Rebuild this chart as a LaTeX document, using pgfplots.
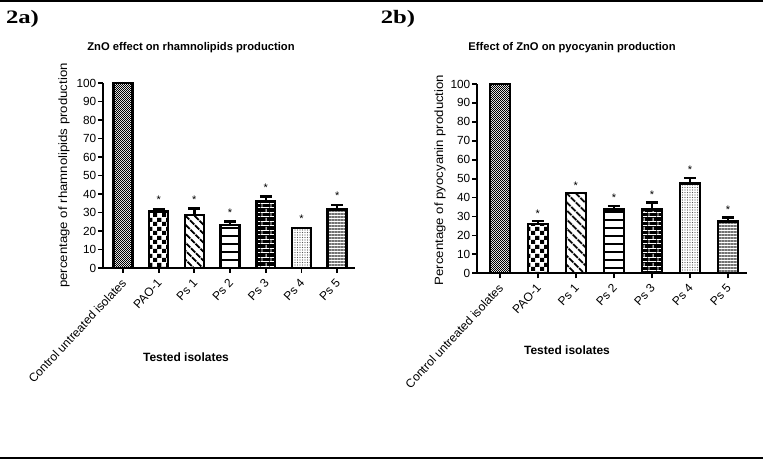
\documentclass[border=0pt]{standalone}
\usepackage{fontspec}
\setmainfont{Liberation Sans}
\newfontfamily\serifb{Liberation Serif}
\usepackage{pgfplots}
\pgfplotsset{compat=1.18}
\usetikzlibrary{patterns, patterns.meta}

\pgfdeclarepatternformonly{bigchecker}{\pgfqpoint{0pt}{0pt}}{\pgfqpoint{9pt}{9pt}}{\pgfqpoint{9pt}{9pt}}{%
  \pgfpathrectangle{\pgfqpoint{0pt}{0pt}}{\pgfqpoint{4.5pt}{4.5pt}}%
  \pgfpathrectangle{\pgfqpoint{4.5pt}{4.5pt}}{\pgfqpoint{4.5pt}{4.5pt}}%
  \pgfusepath{fill}}
\pgfdeclarepatternformonly{finechecker}{\pgfqpoint{0pt}{0pt}}{\pgfqpoint{2.4pt}{2.4pt}}{\pgfqpoint{2.4pt}{2.4pt}}{%
  \pgfpathrectangle{\pgfqpoint{0pt}{0pt}}{\pgfqpoint{1.2pt}{1.2pt}}%
  \pgfpathrectangle{\pgfqpoint{1.2pt}{1.2pt}}{\pgfqpoint{1.2pt}{1.2pt}}%
  \pgfusepath{fill}}
\pgfdeclarepatternformonly{mybricks}{\pgfqpoint{0pt}{0pt}}{\pgfqpoint{9pt}{9pt}}{\pgfqpoint{9pt}{9pt}}{%
  \pgfsetlinewidth{0.9pt}%
  \pgfpathmoveto{\pgfqpoint{0pt}{0.5pt}}\pgfpathlineto{\pgfqpoint{9pt}{0.5pt}}%
  \pgfpathmoveto{\pgfqpoint{0pt}{5pt}}\pgfpathlineto{\pgfqpoint{9pt}{5pt}}%
  \pgfpathmoveto{\pgfqpoint{1pt}{0.5pt}}\pgfpathlineto{\pgfqpoint{1pt}{5pt}}%
  \pgfpathmoveto{\pgfqpoint{5.5pt}{5pt}}\pgfpathlineto{\pgfqpoint{5.5pt}{9pt}}%
  \pgfusepath{stroke}}

\pgfplotsset{
  nbar/.style={ybar, bar width=0.53, bar shift=0pt, draw=black, line width=2.4pt},
  mybar/.style={nbar,
    /pgfplots/error bars/y dir=plus, /pgfplots/error bars/y explicit,
    /pgfplots/error bars/error mark=-,
    /pgfplots/error bars/error bar style={line width=2.4pt, black},
    /pgfplots/error bars/error mark options={rotate=90, line width=2.4pt, mark size=6pt, black}},
  common/.style={
    scale only axis, ymin=0, ymax=100, xmax=6.5,
    axis lines=left, axis line style={-, line width=1.8pt},
    ytick={0,10,...,100}, xtick={0,...,6},
    xticklabels={Control untreated isolates, PAO-1, Ps 1, Ps 2, Ps 3, Ps 4, Ps 5},
    tick align=outside, major tick length=5pt,
    tick style={line width=1.8pt, black},
    xticklabel style={rotate=47, anchor=north east, inner sep=0pt, xshift=-5pt, yshift=-1.5pt, font=\fontsize{12}{13}\selectfont},
    yticklabel style={inner sep=1.5pt, font=\fontsize{11.8}{13}\selectfont},
    /pgf/number format/assume math mode=true,
    clip=false},
}

\begin{document}
\begin{tikzpicture}[x=1pt, y=1pt]
\useasboundingbox (0,0) rectangle (763,460);
\draw[line width=2pt] (0,458.5) -- (763,458.5);
\draw[line width=2pt] (0,1.5) -- (763,1.5);
\node[font=\serifb\bfseries\fontsize{19}{19}\selectfont] at (22.5,441) {\scalebox{1.3}[1]{2a)}};
\node[font=\serifb\bfseries\fontsize{19}{19}\selectfont] at (398,441) {\scalebox{1.3}[1]{2b)}};

% ---------- 2a ----------
\begin{axis}[common, at={(103pt,192pt)}, anchor=south west,
  width=252pt, height=185pt, xmin=-0.56]
\addplot[nbar, fill=white, postaction={pattern=finechecker, pattern color=black}] coordinates {(0,100)};
\addplot[mybar, fill=white, postaction={pattern=bigchecker, pattern color=black}] coordinates {(1,30.6) +- (0,1.3)};
\addplot[mybar, fill=white, postaction={pattern={Lines[angle=-45, distance=6.5pt, line width=2.1pt]}, pattern color=black}] coordinates {(2,28.7) +- (0,3.5)};
\addplot[mybar, fill=white, postaction={pattern={Lines[angle=0, distance=8pt, line width=2.4pt]}, pattern color=black}] coordinates {(3,23.1) +- (0,2.1)};
\addplot[mybar, fill=black, postaction={pattern=mybricks, pattern color=white}] coordinates {(4,35.9) +- (0,2.8)};
\addplot[nbar, fill=white, postaction={pattern={Dots[distance=2.5pt, radius=0.55pt]}, pattern color=black!65}] coordinates {(5,21.6)};
\addplot[mybar, fill=white, postaction={pattern={Lines[angle=0, distance=3pt, line width=1.1pt]}, pattern color=black!55}] coordinates {(6,31.7) +- (0,2.5)};
\foreach \x/\y in {1/31.9, 2/32.2, 3/25.2, 4/38.7, 5/21.6, 6/34.2}{
  \edef\tmp{\noexpand\node[font=\noexpand\fontsize{11}{11}\noexpand\selectfont] at (axis cs:\x,\y+4.8) {*};}\tmp
}
\end{axis}
\node[font=\bfseries\fontsize{11.2}{12}\selectfont] at (191,412) {ZnO effect on rhamnolipids production};
\node[rotate=90, font=\fontsize{12}{13}\selectfont] at (64,284.5) {\scalebox{1.1}[1]{percentage of rhamnolipids production}};
\node[font=\bfseries\fontsize{12}{13}\selectfont] at (186,103) {Tested isolates};

% ---------- 2b ----------
\begin{axis}[common, at={(477pt,186.7pt)}, anchor=south west,
  width=270pt, height=189.3pt, xmin=-0.6]
\addplot[nbar, fill=white, postaction={pattern=finechecker, pattern color=black}] coordinates {(0,100)};
\addplot[mybar, fill=white, postaction={pattern=bigchecker, pattern color=black}] coordinates {(1,26.1) +- (0,1.4)};
\addplot[nbar, fill=white, postaction={pattern={Lines[angle=-45, distance=6.5pt, line width=2.1pt]}, pattern color=black}] coordinates {(2,42.3)};
\addplot[mybar, fill=white, postaction={pattern={Lines[angle=0, distance=8pt, line width=2.4pt]}, pattern color=black}] coordinates {(3,33.8) +- (0,1.9)};
\addplot[mybar, fill=black, postaction={pattern=mybricks, pattern color=white}] coordinates {(4,33.8) +- (0,3.5)};
\addplot[mybar, fill=white, postaction={pattern={Dots[distance=2.5pt, radius=0.55pt]}, pattern color=black!65}] coordinates {(5,47.5) +- (0,3.0)};
\addplot[mybar, fill=white, postaction={pattern={Lines[angle=0, distance=3pt, line width=1.1pt]}, pattern color=black!55}] coordinates {(6,27.3) +- (0,2.1)};
\foreach \x/\y in {1/27.5, 2/42.3, 3/35.7, 4/37.3, 5/50.5, 6/29.4}{
  \edef\tmp{\noexpand\node[font=\noexpand\fontsize{11}{11}\noexpand\selectfont] at (axis cs:\x,\y+4.2) {*};}\tmp
}
\end{axis}
\node[font=\bfseries\fontsize{11.2}{12}\selectfont] at (572,412) {Effect of ZnO on pyocyanin production};
\node[rotate=90, font=\fontsize{12}{13}\selectfont] at (440,280) {\scalebox{1.1}[1]{Percentage of pyocyanin production}};
\node[font=\bfseries\fontsize{12}{13}\selectfont] at (567,110) {Tested isolates};
\end{tikzpicture}
\end{document}
